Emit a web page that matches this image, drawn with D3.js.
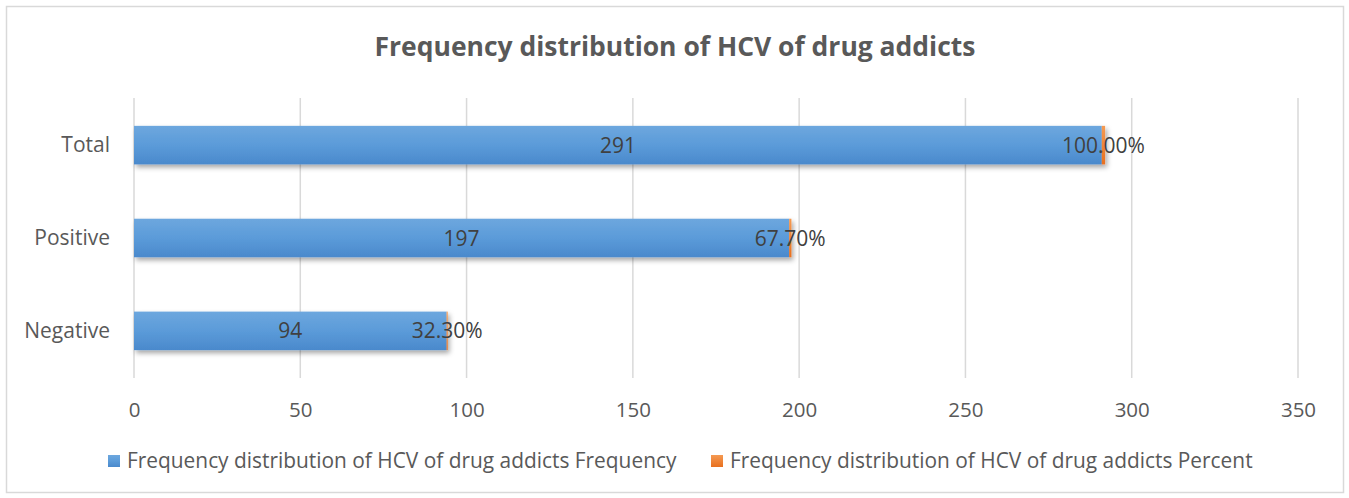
<!DOCTYPE html>
<html><head><meta charset="utf-8">
<script src="https://cdn.jsdelivr.net/npm/d3@7"></script>
<style>body{margin:0;background:#fff}svg{display:block}</style>
</head><body>
<svg id="chart" width="1349" height="498"></svg>
<script>
const title = "Frequency distribution of HCV of drug addicts";
const categories = ["Total", "Positive", "Negative"];
const frequency = [291, 197, 94];
const percent = [1.0, 0.677, 0.323];
const percentLabels = ["100.00%", "67.70%", "32.30%"];
const xTicks = [0, 50, 100, 150, 200, 250, 300, 350];
const seriesNames = [
  "Frequency distribution of HCV of drug addicts Frequency",
  "Frequency distribution of HCV of drug addicts Percent"
];

const FONT = "'Open Sans', 'Noto Sans', sans-serif";
const svg = d3.select("#chart");
const W = 1349, H = 498;
const m = {left: 134, right: W - 1298, top: 98, bottom: H - 378};

// chart frame
svg.append("rect").attr("x", 6.5).attr("y", 6.5).attr("width", 1337).attr("height", 486)
  .attr("fill", "#fff").attr("stroke", "#d9d9d9").attr("stroke-width", 1.5);

const defs = svg.append("defs");
const grad = defs.append("linearGradient").attr("id", "blueGrad")
  .attr("x1", 0).attr("y1", 0).attr("x2", 0).attr("y2", 1);
grad.append("stop").attr("offset", "0%").attr("stop-color", "#6da7de");
grad.append("stop").attr("offset", "50%").attr("stop-color", "#5b9bd9");
grad.append("stop").attr("offset", "100%").attr("stop-color", "#4a89cc");
const ograd = defs.append("linearGradient").attr("id", "orangeGrad")
  .attr("x1", 0).attr("y1", 0).attr("x2", 0).attr("y2", 1);
ograd.append("stop").attr("offset", "0%").attr("stop-color", "#f59a52");
ograd.append("stop").attr("offset", "100%").attr("stop-color", "#e8701f");
const shadow = defs.append("filter").attr("id", "shadow")
  .attr("x", "-5%").attr("y", "-30%").attr("width", "110%").attr("height", "180%");
shadow.append("feDropShadow").attr("dx", 2).attr("dy", 3).attr("stdDeviation", 2.5)
  .attr("flood-color", "#000").attr("flood-opacity", 0.35);

const x = d3.scaleLinear().domain([0, 350]).range([m.left, W - m.right]);
const y = d3.scaleBand().domain(categories).range([m.top, H - m.bottom]).paddingInner(0.585).paddingOuter(0.3);

// fit text to a measured width
function fitText(sel, width) {
  const n = sel.node();
  const w = n.getComputedTextLength();
  const fs = parseFloat(sel.attr("font-size"));
  sel.attr("font-size", fs * width / w);
}

// title
const t = svg.append("text").attr("x", 675).attr("y", 56).attr("text-anchor", "middle")
  .attr("font-family", FONT).attr("font-weight", "bold").attr("font-size", 24)
  .attr("fill", "#595959").text(title);
fitText(t, 601);

// vertical gridlines
svg.append("g").selectAll("line").data(xTicks).join("line")
  .attr("x1", d => x(d)).attr("x2", d => x(d))
  .attr("y1", m.top).attr("y2", H - m.bottom)
  .attr("stroke", "#d9d9d9").attr("stroke-width", 1.5);

// x axis labels
const xAxis = d3.axisBottom(x).tickValues(xTicks).tickSize(0).tickPadding(0);
const gx = svg.append("g").attr("transform", `translate(0,${H - m.bottom})`).call(xAxis);
gx.select(".domain").remove();
gx.selectAll("text").attr("font-family", FONT).attr("font-size", 20.5).attr("fill", "#595959")
  .attr("dy", 0).attr("y", 39);

// y axis labels
const yAxis = d3.axisLeft(y).tickSize(0).tickPadding(24);
const gy = svg.append("g").attr("transform", `translate(${m.left},0)`).call(yAxis);
gy.select(".domain").remove();
gy.selectAll("text").attr("font-family", FONT).attr("font-size", 21).attr("fill", "#595959");

// stacked bars
const rows = categories.map((c, i) => ({c, f: frequency[i], p: percent[i], pl: percentLabels[i]}));
const bars = svg.append("g");
const rg = bars.selectAll("g").data(rows).join("g").attr("filter", "url(#shadow)");
rg.append("rect").attr("x", x(0)).attr("y", d => y(d.c))
  .attr("width", d => x(d.f) - x(0)).attr("height", y.bandwidth()).attr("fill", "url(#blueGrad)");
rg.append("rect").attr("x", d => x(d.f)).attr("y", d => y(d.c))
  .attr("width", d => x(d.f + d.p) - x(d.f)).attr("height", y.bandwidth()).attr("fill", "url(#orangeGrad)");

// value labels
const lbl = svg.append("g").attr("font-family", FONT).attr("font-size", 21).attr("fill", "#404040")
  .attr("text-anchor", "middle");
lbl.selectAll("text.f").data(rows).join("text").attr("class", "f")
  .attr("x", d => (x(0) + x(d.f)) / 2).attr("y", d => y(d.c) + y.bandwidth() / 2).attr("dy", "0.36em")
  .text(d => d.f);
lbl.selectAll("text.p").data(rows).join("text").attr("class", "p")
  .attr("x", d => (x(d.f) + x(d.f + d.p)) / 2).attr("y", d => y(d.c) + y.bandwidth() / 2).attr("dy", "0.36em")
  .text(d => d.pl);

// legend
const legend = [
  {name: seriesNames[0], fill: "url(#blueGrad)", x: 108, tw: 550},
  {name: seriesNames[1], fill: "url(#orangeGrad)", x: 711, tw: 523}
];
const lg = svg.append("g").selectAll("g").data(legend).join("g");
lg.append("rect").attr("x", d => d.x).attr("y", 455).attr("width", 12).attr("height", 12).attr("fill", d => d.fill);
lg.append("text").attr("x", d => d.x + 19).attr("y", 468)
  .attr("font-family", FONT).attr("font-size", 18).attr("fill", "#595959").text(d => d.name)
  .each(function(d) { fitText(d3.select(this), d.tw); });
</script>
</body></html>
